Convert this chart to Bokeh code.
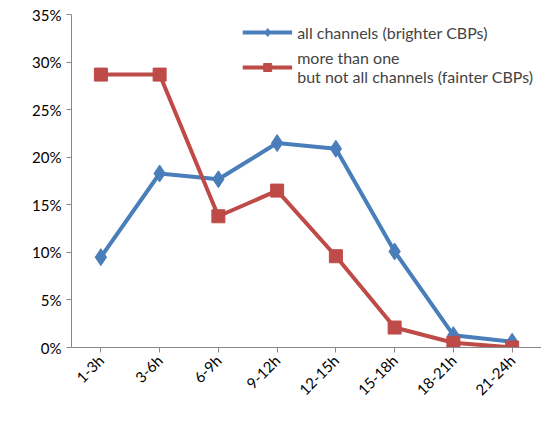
from bokeh.plotting import figure
from bokeh.models import NumeralTickFormatter, FixedTicker, Range1d, Legend, LegendItem
from bokeh.embed import file_html
from bokeh.resources import INLINE

categories = ["1-3h", "3-6h", "6-9h", "9-12h", "12-15h", "15-18h", "18-21h", "21-24h"]
all_channels = [9.5, 18.3, 17.7, 21.5, 20.9, 10.1, 1.3, 0.6]
partial_channels = [28.7, 28.7, 13.8, 16.5, 9.6, 2.1, 0.5, 0.0]

FONT = "Lato"
xs = list(range(len(categories)))

p = figure(width=541, height=419, output_backend="svg", toolbar_location=None,
           x_range=Range1d(-0.5, 7.5), y_range=Range1d(0, 0.3502),
           min_border_left=71, min_border_right=0, min_border_top=14, min_border_bottom=72)
p.outline_line_color = None
p.xgrid.visible = False
p.ygrid.visible = False

blue = "#4A7EBB"
red = "#BE4B48"
ya = [v / 100 for v in all_channels]
yp = [v / 100 for v in partial_channels]
l1 = p.line(xs, ya, line_color=blue, line_width=4)
m1 = p.scatter(xs, ya, marker="diamond", size=17, fill_color=blue, line_color=blue)
l2 = p.line(xs, yp, line_color=red, line_width=4)
m2 = p.scatter(xs, yp, marker="square", size=13, fill_color=red, line_color=red)

legend = Legend(items=[
    LegendItem(label="all channels (brighter CBPs)", renderers=[l1, m1]),
    LegendItem(label="more than one\nbut not all channels (fainter CBPs)", renderers=[l2, m2]),
], location="top_right", border_line_color=None, background_fill_alpha=0,
    label_text_font=FONT, label_text_font_size="16px", glyph_width=50, spacing=6,
    margin=8, padding=4)
p.add_layout(legend)

p.yaxis.ticker = FixedTicker(ticks=[i * 0.05 for i in range(8)])
p.yaxis.formatter = NumeralTickFormatter(format="0%")
p.xaxis.ticker = FixedTicker(ticks=xs)
p.xaxis.major_label_overrides = {i: c for i, c in enumerate(categories)}
p.xaxis.major_label_orientation = 0.785
for ax in (p.xaxis, p.yaxis):
    ax.major_label_text_font = FONT
    ax.major_label_text_font_size = "15px"
    ax.major_label_text_color = "#000000"
    ax.axis_line_color = "#888888"
    ax.major_tick_line_color = "#888888"
    ax.minor_tick_line_color = None
p.yaxis.major_tick_in = 0
p.yaxis.major_tick_out = 5
p.xaxis.major_tick_in = 0
p.xaxis.major_tick_out = 5

open("out.html", "w").write(file_html(p, INLINE))
